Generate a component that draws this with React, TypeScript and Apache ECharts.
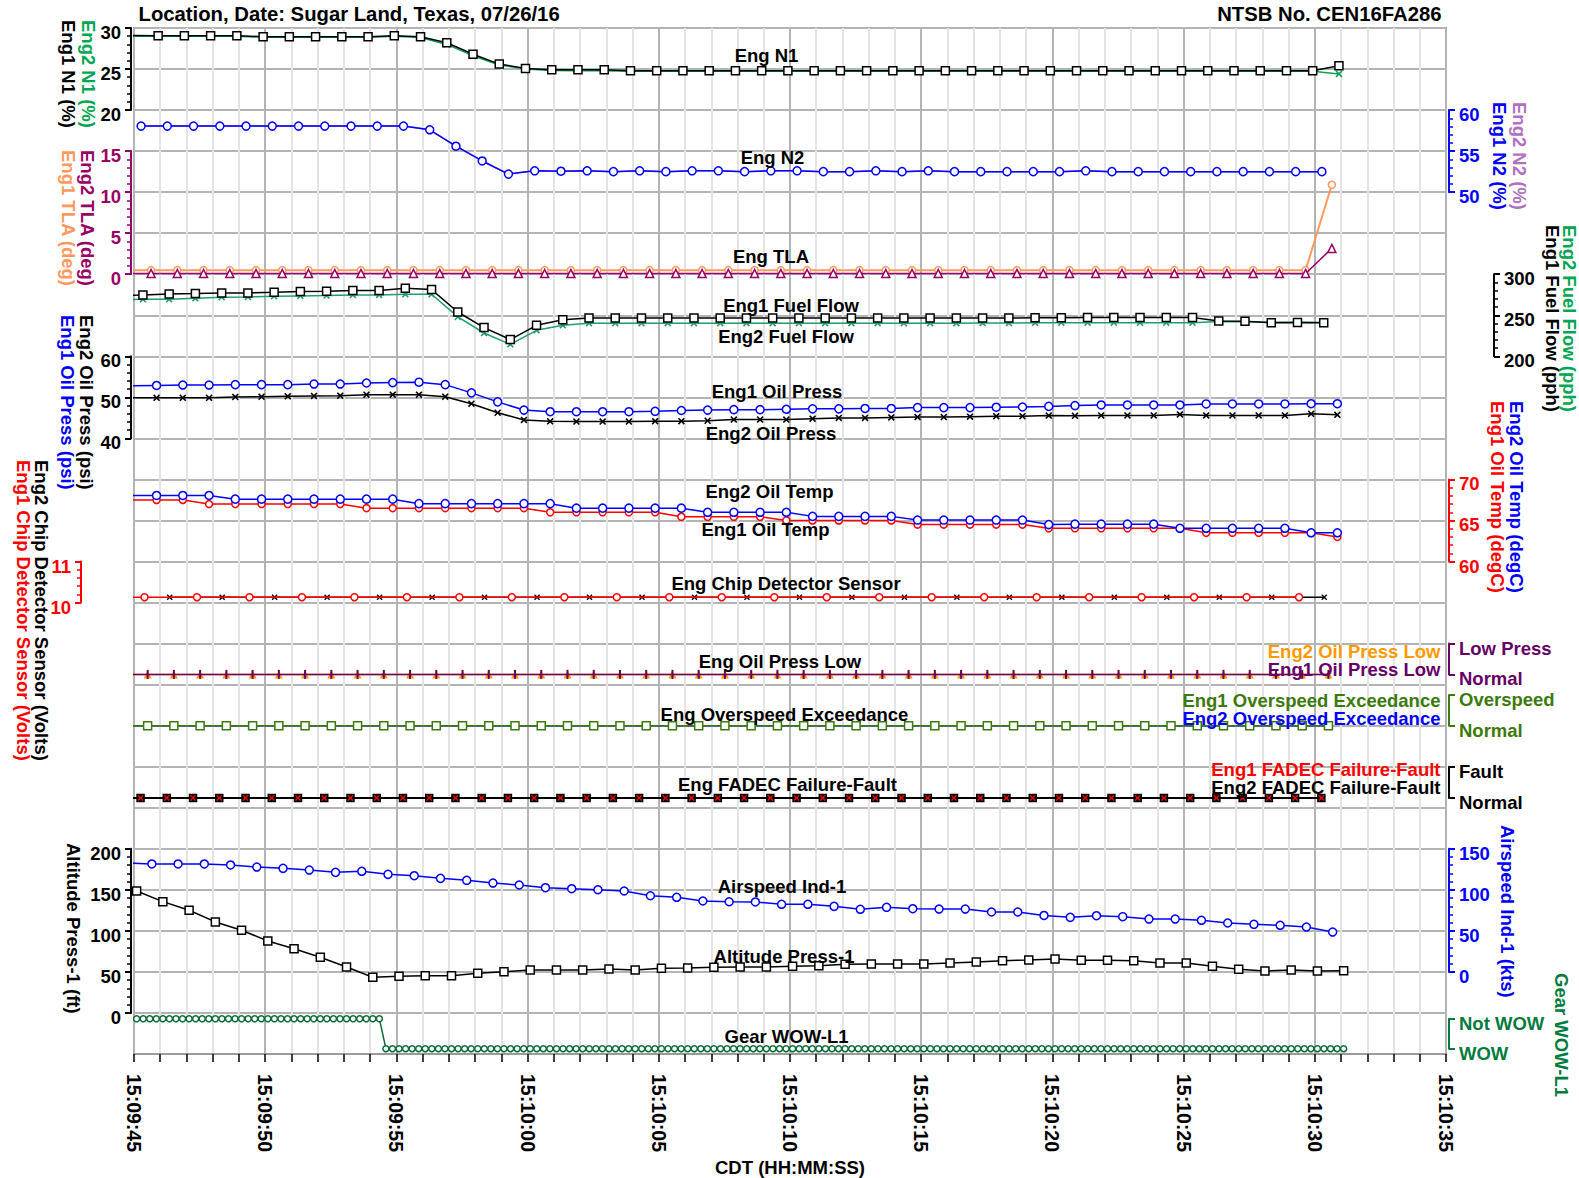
import React, { useEffect, useRef } from "react";
import * as echarts from "echarts";

const FONT = '"Liberation Sans", Arial, Helvetica, sans-serif';

// ---------- time base (seconds after 15:09:45) ----------
const X_MIN = 0;
const X_MAX = 50;
const X_MAJOR = 5;

// ---------- data ----------
// Eng N1 (%) – 1 Hz, first sample at -0.08 s
const n1T0 = -0.08;
const n1Eng1 = [29.1, 29.06, 29.06, 29.06, 29.06, 28.94, 28.94, 28.94, 28.94, 28.94, 29.06, 28.94, 28.2, 26.8, 25.6, 25.08, 24.9, 24.9, 24.9,
  24.8, 24.8, 24.8, 24.8, 24.8, 24.8, 24.8, 24.8, 24.8, 24.8, 24.8, 24.8, 24.8, 24.8, 24.8, 24.8, 24.8, 24.8, 24.8, 24.8, 24.8, 24.8, 24.8, 24.8, 24.8, 24.8, 24.8, 25.4];
const n1Eng2 = [29.0, 29.0, 29.0, 29.0, 29.0, 28.88, 28.88, 28.88, 28.88, 28.88, 28.98, 28.85, 28.0, 26.6, 25.5, 25.0, 24.82, 24.8, 24.8,
  24.72, 24.72, 24.72, 24.72, 24.72, 24.72, 24.72, 24.72, 24.72, 24.72, 24.72, 24.72, 24.72, 24.72, 24.72, 24.72, 24.72, 24.72, 24.72, 24.72, 24.72, 24.72, 24.72, 24.72, 24.72, 24.72, 24.72, 24.4];

// Eng N2 (%) – first sample at 0.27 s
const n2T0 = 0.27;
const n2Eng1 = [58.05, 58.05, 58.05, 58.05, 58.05, 58.05, 58.05, 58.05, 58.05, 58.05, 58.05, 57.6, 55.6, 53.8, 52.2, 52.6,
  52.55, 52.6, 52.5, 52.6, 52.5, 52.6, 52.6, 52.5, 52.6, 52.6, 52.5, 52.5, 52.6, 52.5, 52.6, 52.5, 52.5, 52.5, 52.5, 52.5,
  52.6, 52.5, 52.5, 52.5, 52.5, 52.5, 52.5, 52.5, 52.5, 52.5];
const n2Eng2 = n2Eng1.slice();

// Eng TLA (deg) – first sample at -0.35 s
const tlaT0 = -0.35;
const tlaEng1 = [0.5, 0.5, 0.5, 0.5, 0.5, 0.5, 0.5, 0.5, 0.5, 0.5, 0.5, 0.5, 0.5, 0.5, 0.5, 0.5, 0.5, 0.5, 0.5, 0.5, 0.5, 0.5, 0.5, 0.5,
  0.5, 0.5, 0.5, 0.5, 0.5, 0.5, 0.5, 0.5, 0.5, 0.5, 0.5, 0.5, 0.5, 0.5, 0.5, 0.5, 0.5, 0.5, 0.5, 0.5, 0.5, 0.5, 10.9];
const tlaEng2 = [0.1, 0.1, 0.1, 0.1, 0.1, 0.1, 0.1, 0.1, 0.1, 0.1, 0.1, 0.1, 0.1, 0.1, 0.1, 0.1, 0.1, 0.1, 0.1, 0.1, 0.1, 0.1, 0.1, 0.1,
  0.1, 0.1, 0.1, 0.1, 0.1, 0.1, 0.1, 0.1, 0.1, 0.1, 0.1, 0.1, 0.1, 0.1, 0.1, 0.1, 0.1, 0.1, 0.1, 0.1, 0.1, 0.1, 3.15];

// Eng Fuel Flow (pph) – first sample at -0.66 s
const fuelT0 = -0.66;
const fuelEng1 = [274, 274.8, 276, 276.5, 277.2, 277.2, 278, 278.9, 279.3, 280.1, 280.1, 282.9, 281.3, 254, 235, 220.4, 237.8, 244.5,
  246.7, 246.7, 246.7, 246.7, 246.7, 246.7, 246.8, 246.8, 246.8, 246.8, 246.8, 246.8, 246.8, 246.8, 246.8, 246.8, 246.8, 246.9, 247, 247.2, 247.2, 247.2, 247.2, 247.2,
  243, 242.7, 241, 241.2, 241];
const fuelEng2 = [269.1, 269.5, 269.5, 270.7, 272, 272.3, 273.2, 273.6, 274, 274.8, 274.8, 275.6, 275.6, 248, 228.4, 214.6, 231.7, 237.8,
  240.3, 240.3, 240.3, 240.3, 240.3, 240.3, 240.3, 240.3, 240.3, 240.3, 240.3, 240.3, 240.3, 240.3, 240.3, 240.5, 240.5, 240.8, 241, 241, 241, 241, 241, 241,
  242.3, 242, 241.5, 241.5, 241.3];

// Eng Oil Press (psi) – first sample at -0.14 s
const oilPT0 = -0.14;
const oilPEng1 = [52.8, 52.9, 53.0, 53.0, 53.1, 53.1, 53.1, 53.25, 53.25, 53.5, 53.6, 53.7, 53.1, 51.1, 48.9, 46.9, 46.5,
  46.5, 46.5, 46.5, 46.6, 46.8, 46.9, 47.0, 47.0, 47.1, 47.2, 47.2, 47.3, 47.3, 47.5, 47.5, 47.5, 47.6, 47.65, 47.8,
  48.0, 48.15, 48.15, 48.15, 48.15, 48.4, 48.4, 48.4, 48.4, 48.45, 48.45];
const oilPEng2 = [49.9, 49.9, 49.9, 49.9, 50.1, 50.15, 50.25, 50.35, 50.4, 50.65, 50.65, 50.65, 50.15, 48.45, 46.25, 44.5, 44.15,
  44.1, 44.1, 44.1, 44.2, 44.2, 44.3, 44.6, 44.6, 44.6, 44.8, 45.0, 45.0, 45.1, 45.2, 45.2, 45.3, 45.4, 45.4, 45.55,
  45.5, 45.6, 45.6, 45.6, 45.85, 45.6, 45.6, 45.6, 45.6, 46.0, 45.75];

// Eng Oil Temp (degC) – first sample at -0.14 s
const oilTT0 = -0.14;
const oilTEng1 = [67.5, 67.5, 67.5, 67.0, 67.0, 67.0, 67.0, 67.0, 67.0, 66.5, 66.5, 66.5, 66.5, 66.5, 66.5, 66.5,
  66.0, 66.0, 66.0, 66.0, 66.0, 65.45, 65.45, 65.45, 65.45, 65.0, 65.0, 65.0, 65.0, 65.0, 64.5, 64.5, 64.5, 64.5, 64.5,
  64.05, 64.05, 64.05, 64.05, 64.05, 64.05, 63.5, 63.5, 63.5, 63.5, 63.5, 63.0];
const oilTEng2 = [68.05, 68.05, 68.05, 68.05, 67.6, 67.6, 67.6, 67.6, 67.6, 67.6, 67.6, 67.05, 67.05, 67.05, 67.05, 67.05, 67.05,
  66.5, 66.5, 66.5, 66.5, 66.5, 66.0, 66.0, 66.0, 66.0, 65.5, 65.5, 65.5, 65.5, 65.05, 65.05, 65.05, 65.05, 65.05, 64.5,
  64.55, 64.55, 64.55, 64.55, 64.05, 64.05, 64.05, 64.05, 64.05, 63.5, 63.5];

// Eng Chip Detector Sensor (Volts) – every 2 s
const chipEng1T0 = -1.6;
const chipEng1 = [10.13, 10.13, 10.13, 10.13, 10.13, 10.13, 10.13, 10.13, 10.13, 10.13, 10.13, 10.13,
  10.13, 10.13, 10.13, 10.13, 10.13, 10.13, 10.13, 10.13, 10.13, 10.13, 10.13, 10.13];
const chipEng2T0 = 1.36;
const chipEng2 = [10.13, 10.13, 10.13, 10.13, 10.13, 10.13, 10.13, 10.13, 10.13, 10.13, 10.13, 10.13,
  10.13, 10.13, 10.13, 10.13, 10.13, 10.13, 10.13, 10.13, 10.13, 10.13, 10.13];

// Discrete parameters (0 = Normal)
const discreteT0 = -0.48;
const oilLowEng1 = [0, 0, 0, 0, 0, 0, 0, 0, 0, 0, 0, 0, 0, 0, 0, 0, 0, 0, 0, 0, 0, 0, 0, 0, 0, 0, 0, 0, 0, 0, 0, 0, 0, 0, 0, 0, 0, 0, 0, 0, 0, 0, 0, 0, 0, 0, 0];
const oilLowEng2 = [0, 0, 0, 0, 0, 0, 0, 0, 0, 0, 0, 0, 0, 0, 0, 0, 0, 0, 0, 0, 0, 0, 0, 0, 0, 0, 0, 0, 0, 0, 0, 0, 0, 0, 0, 0, 0, 0, 0, 0, 0, 0, 0, 0, 0, 0, 0];
const ovspEng1 = [0, 0, 0, 0, 0, 0, 0, 0, 0, 0, 0, 0, 0, 0, 0, 0, 0, 0, 0, 0, 0, 0, 0, 0, 0, 0, 0, 0, 0, 0, 0, 0, 0, 0, 0, 0, 0, 0, 0, 0, 0, 0, 0, 0, 0, 0, 0];
const ovspEng2 = [0, 0, 0, 0, 0, 0, 0, 0, 0, 0, 0, 0, 0, 0, 0, 0, 0, 0, 0, 0, 0, 0, 0, 0, 0, 0, 0, 0, 0, 0, 0, 0, 0, 0, 0, 0, 0, 0, 0, 0, 0, 0, 0, 0, 0, 0, 0];
const fadecT0 = -0.75;
const fadecEng1 = [0, 0, 0, 0, 0, 0, 0, 0, 0, 0, 0, 0, 0, 0, 0, 0, 0, 0, 0, 0, 0, 0, 0, 0, 0, 0, 0, 0, 0, 0, 0, 0, 0, 0, 0, 0, 0, 0, 0, 0, 0, 0, 0, 0, 0, 0, 0];
const fadecEng2 = [0, 0, 0, 0, 0, 0, 0, 0, 0, 0, 0, 0, 0, 0, 0, 0, 0, 0, 0, 0, 0, 0, 0, 0, 0, 0, 0, 0, 0, 0, 0, 0, 0, 0, 0, 0, 0, 0, 0, 0, 0, 0, 0, 0, 0, 0, 0];

// Altitude Press-1 (ft) – first sample at 0.1 s
const altT0 = 0.1;
const altitude = [148.6, 135.6, 125.1, 110.9, 100.8, 87.7, 78.3, 67.9, 56.0, 43.5, 44.7, 45.4, 45.4, 48.4, 50.3, 52.4, 52.4,
  52.4, 53.6, 52.4, 54.4, 54.8, 55.7, 56.0, 56.0, 56.9, 57.6, 59.3, 59.7, 59.7, 59.7, 60.9, 62.1, 63.7, 64.6, 65.6,
  64.2, 64.2, 63.7, 60.9, 60.9, 56.9, 53.2, 51.2, 52.4, 51.2, 51.5];

// Airspeed Ind-1 (kts) – first sample at -0.32 s
const iasT0 = -0.32;
const airspeed = [132.7, 131.5, 131.5, 131.5, 130.3, 127.8, 126.2, 124.1, 121.3, 122.6, 118.9, 117.2, 114.0, 111.6, 108.3, 105.9, 102.6,
  101.4, 100.1, 98.6, 92.8, 90.9, 86.4, 85.5, 85.2, 82.4, 82.4, 79.9, 76.3, 78.7, 77.0, 76.6, 76.6, 73.0, 73.0, 68.8,
  66.5, 68.5, 67.3, 64.4, 64.4, 62.9, 59.6, 58.0, 56.8, 54.7, 48.6];

// Gear WOW-L1 – 4 Hz, 1 = Not WOW, 0 = WOW
const gearT0 = 0.1;
const gearRateHz = 4;
const gearWowL1 = (
  "1111111111" + "1111111111" + "1111111111" + "11111111" +
  "0000000000" + "0000000000" + "0000000000" + "0000000000" + "0000000000" + "0000000000" + "0000000000" +
  "0000000000" + "0000000000" + "0000000000" + "0000000000" + "0000000000" + "0000000000" + "0000000000" + "0000000"
).split("").map(Number);

// ---------- layout ----------
const ROWS = 25;
const GRID = { left: 134, top: 28, width: 1312, height: 1026 };
const ROW_H = GRID.height / ROWS;

type AxisSpec = { key: string; rt: number; rb: number; vt: number; vb: number; side: "left" | "right"; offset: number; color: string; interval: number; names?: string[] };
const AXES: AxisSpec[] = [
  { key: "n1", rt: 0, rb: 2, vt: 30, vb: 20, side: "left", offset: 3, color: "#000000", interval: 5 },
  { key: "tla", rt: 3, rb: 6, vt: 15, vb: 0, side: "left", offset: 3, color: "#990066", interval: 5 },
  { key: "oilp", rt: 8, rb: 10, vt: 60, vb: 40, side: "left", offset: 3, color: "#000000", interval: 10 },
  { key: "chip", rt: 13, rb: 14, vt: 11, vb: 10, side: "left", offset: 53, color: "#ff0000", interval: 1 },
  { key: "alt", rt: 20, rb: 24, vt: 200, vb: 0, side: "left", offset: 3, color: "#000000", interval: 50 },
  { key: "n2", rt: 2, rb: 4, vt: 60, vb: 50, side: "right", offset: 3, color: "#0000ff", interval: 5 },
  { key: "fuel", rt: 6, rb: 8, vt: 300, vb: 200, side: "right", offset: 48, color: "#000000", interval: 50 },
  { key: "oilt", rt: 11, rb: 13, vt: 70, vb: 60, side: "right", offset: 3, color: "#ff0000", interval: 5 },
  { key: "lowp", rt: 15, rb: 15.75, vt: 1, vb: 0, side: "right", offset: 3, color: "#660066", interval: 1, names: ["Normal", "Low Press"] },
  { key: "ovsp", rt: 16.25, rb: 17, vt: 1, vb: 0, side: "right", offset: 3, color: "#3b7a0b", interval: 1, names: ["Normal", "Overspeed"] },
  { key: "fadec", rt: 18, rb: 18.76, vt: 1, vb: 0, side: "right", offset: 3, color: "#000000", interval: 1, names: ["Normal", "Fault"] },
  { key: "ias", rt: 20, rb: 23, vt: 150, vb: 0, side: "right", offset: 3, color: "#0000ff", interval: 50 },
  { key: "gear", rt: 24.14, rb: 24.87, vt: 1, vb: 0, side: "right", offset: 3, color: "#007a3d", interval: 1, names: ["WOW", "Not WOW"] },
];

const X_SYMBOL = "path://M0,1.6L1.6,0L5,3.4L8.4,0L10,1.6L6.6,5L10,8.4L8.4,10L5,6.6L1.6,10L0,8.4L3.4,5Z";

function pad(n: number) {
  return n < 10 ? "0" + n : "" + n;
}
function timeLabel(v: number) {
  const tot = 9 * 60 + 45 + Math.round(v);
  return "15:" + pad(Math.floor(tot / 60)) + ":" + pad(tot % 60);
}

function buildOption() {
  const grids: any[] = [{ ...GRID, show: true, borderColor: "#9a9a9a", borderWidth: 2, backgroundColor: "transparent" }];
  const xAxes: any[] = [
    {
      gridIndex: 0, type: "value", min: X_MIN, max: X_MAX, interval: X_MAJOR,
      axisLine: { show: true, onZero: false, lineStyle: { color: "#9a9a9a", width: 2 } },
      axisTick: { show: true, length: 8, lineStyle: { color: "#000", width: 1.5 } },
      minorTick: { show: true, splitNumber: 5, length: 8, lineStyle: { color: "#000", width: 1.5 } },
      splitLine: { show: true, lineStyle: { color: "#b4b4b4", width: 2 } },
      minorSplitLine: { show: true, lineStyle: { color: "#e4e4e4", width: 2 } },
      axisLabel: {
        show: true, rotate: -90, margin: 20, formatter: timeLabel, color: "#000",
        fontFamily: FONT, fontWeight: "bold", fontSize: 19.5, showMinLabel: true, showMaxLabel: true,
      },
    },
  ];
  const yAxes: any[] = [
    {
      gridIndex: 0, type: "value", min: 0, max: ROWS, interval: 1, show: true,
      axisLine: { show: false }, axisTick: { show: false }, axisLabel: { show: false },
      splitLine: { show: true, lineStyle: { color: "#b4b4b4", width: 2 } },
    },
  ];
  const hiddenIdx: Record<string, number> = {};
  AXES.forEach((a) => {
    const per = (a.vt - a.vb) / (a.rb - a.rt);
    hiddenIdx[a.key] = yAxes.length;
    yAxes.push({
      gridIndex: 0, type: "value", show: false,
      min: a.vb - (ROWS - a.rb) * per, max: a.vt + a.rt * per,
      splitLine: { show: false },
    });
  });
  AXES.forEach((a) => {
    const gi = grids.length;
    grids.push({ left: GRID.left, width: GRID.width, top: GRID.top + a.rt * ROW_H, height: (a.rb - a.rt) * ROW_H, show: false });
    xAxes.push({ gridIndex: gi, type: "value", min: X_MIN, max: X_MAX, show: false });
    yAxes.push({
      gridIndex: gi, type: "value", position: a.side, offset: a.offset,
      min: a.vb, max: a.vt, interval: a.interval,
      axisLine: { show: true, onZero: false, lineStyle: { color: a.color, width: 2 } },
      axisTick: { show: true, inside: false, length: 6, lineStyle: { color: a.color, width: 2 } },
      minorTick: a.names ? { show: false } : { show: true, splitNumber: 5, length: 4, lineStyle: { color: a.color, width: 1.5 } },
      splitLine: { show: false },
      axisLabel: {
        show: true, margin: 10, color: a.color, fontFamily: FONT, fontWeight: "bold", fontSize: 18.5,
        verticalAlign: "top", lineHeight: 9,
        formatter: a.names ? (v: number) => (a.names as string[])[Math.round(v)] : undefined,
        showMinLabel: true, showMaxLabel: true,
      },
    });
  });

  const mk = (o: {
    axis: string; t0: number; step: number; values: number[]; color: string; symbol?: string; size?: any;
    fill?: string; width?: number; z?: number; lineOpacity?: number; symbolBorder?: number;
  }) => ({
    type: "line", xAxisIndex: 0, yAxisIndex: hiddenIdx[o.axis], clip: true, silent: true, animation: false,
    data: o.values.map((v, i) => [o.t0 + i * o.step, v]),
    symbol: o.symbol || "none", showSymbol: !!o.symbol, symbolSize: o.size || 7,
    itemStyle: { color: o.fill || o.color, borderColor: o.color, borderWidth: o.symbolBorder ?? 1.5 },
    lineStyle: { color: o.color, width: o.width || 1.5, opacity: o.lineOpacity ?? 1 },
    z: o.z || 3,
  });

  const series: any[] = [
    // N1
    mk({ axis: "n1", t0: n1T0, step: 1, values: n1Eng2, color: "#00a651", symbol: X_SYMBOL, size: 7, symbolBorder: 0, z: 3 }),
    mk({ axis: "n1", t0: n1T0, step: 1, values: n1Eng1, color: "#000000", symbol: "rect", size: 8, fill: "#ffffff", z: 4 }),
    // N2
    mk({ axis: "n2", t0: n2T0, step: 1, values: n2Eng2, color: "#b070c0", z: 3 }),
    mk({ axis: "n2", t0: n2T0, step: 1, values: n2Eng1, color: "#0000ff", symbol: "circle", size: 8, fill: "#ffffff", z: 4 }),
    // TLA
    mk({ axis: "tla", t0: tlaT0, step: 1, values: tlaEng1, color: "#ff9960", symbol: "circle", size: 7, fill: "#ffffff", width: 2, z: 3 }),
    mk({ axis: "tla", t0: tlaT0, step: 1, values: tlaEng2, color: "#990066", symbol: "triangle", size: 8, fill: "#ffffff", z: 4 }),
    // Fuel flow
    mk({ axis: "fuel", t0: fuelT0, step: 1, values: fuelEng2, color: "#1f9e6a", symbol: X_SYMBOL, size: 7, symbolBorder: 0, z: 3 }),
    mk({ axis: "fuel", t0: fuelT0, step: 1, values: fuelEng1, color: "#000000", symbol: "rect", size: 8, fill: "#ffffff", z: 4 }),
    // Oil press
    mk({ axis: "oilp", t0: oilPT0, step: 1, values: oilPEng2, color: "#000000", symbol: X_SYMBOL, size: 7, symbolBorder: 0, z: 3 }),
    mk({ axis: "oilp", t0: oilPT0, step: 1, values: oilPEng1, color: "#0000ff", symbol: "circle", size: 8, fill: "#ffffff", z: 4 }),
    // Oil temp
    mk({ axis: "oilt", t0: oilTT0, step: 1, values: oilTEng1, color: "#ff0000", symbol: "circle", size: 7, fill: "#ffffff", z: 3 }),
    mk({ axis: "oilt", t0: oilTT0, step: 1, values: oilTEng2, color: "#0000ff", symbol: "circle", size: 8, fill: "#ffffff", z: 4 }),
    // Chip detector
    mk({ axis: "chip", t0: chipEng2T0, step: 2, values: chipEng2, color: "#000000", symbol: X_SYMBOL, size: 6, symbolBorder: 0, z: 3 }),
    mk({ axis: "chip", t0: chipEng1T0, step: 2, values: chipEng1, color: "#ff0000", symbol: "circle", size: 7, fill: "#ffffff", z: 4 }),
    // Oil press low
    mk({ axis: "lowp", t0: discreteT0, step: 1, values: oilLowEng2, color: "#ff9900", symbol: "triangle", size: 8, symbolBorder: 0, z: 3 }),
    mk({ axis: "lowp", t0: discreteT0, step: 1, values: oilLowEng1, color: "#660066", symbol: "rect", size: [2, 9], symbolBorder: 0, z: 4 }),
    // Overspeed
    mk({ axis: "ovsp", t0: discreteT0, step: 1, values: ovspEng2, color: "#0000ff", z: 3 }),
    mk({ axis: "ovsp", t0: discreteT0, step: 1, values: ovspEng1, color: "#3b7a0b", symbol: "rect", size: 8, fill: "#ffffff", z: 4 }),
    // FADEC
    mk({ axis: "fadec", t0: fadecT0, step: 1, values: fadecEng2, color: "#000000", symbol: "rect", size: 7, width: 2, z: 3 }),
    mk({ axis: "fadec", t0: fadecT0, step: 1, values: fadecEng1, color: "#ff0000", symbol: X_SYMBOL, size: 6, symbolBorder: 0, lineOpacity: 0, z: 4 }),
    // Altitude / airspeed
    mk({ axis: "alt", t0: altT0, step: 1, values: altitude, color: "#000000", symbol: "rect", size: 8, fill: "#ffffff", z: 4 }),
    mk({ axis: "ias", t0: iasT0, step: 1, values: airspeed, color: "#0000ff", symbol: "circle", size: 8, fill: "#ffffff", z: 4 }),
    // Gear WOW
    mk({ axis: "gear", t0: gearT0, step: 1 / gearRateHz, values: gearWowL1, color: "#0b6b35", symbol: "circle", size: 6, fill: "#ffffff", z: 4 }),
  ];

  const txt = (text: string, x: number, y: number, fill: string, opts: any = {}) => ({
    type: "text", x, y, rotation: opts.rot || 0, silent: true, z: 100,
    style: {
      text, fill, font: `bold ${opts.size || 18.5}px ${FONT}`,
      align: opts.align || "center", verticalAlign: opts.va || "middle",
      lineHeight: opts.lh,
    },
  });
  const V = -Math.PI / 2;
  const vt = (text: string, x: number, top: number, fill: string) => txt(text, x, top, fill, { rot: V, align: "left", va: "middle", lh: 18 });
  const leg = (text: string, y: number, fill: string) => txt(text, 1440.5, y, fill, { align: "right", lh: 14 });

  const graphic: any[] = [
    txt("Location, Date: Sugar Land, Texas, 07/26/16", 138.5, 14, "#000", { align: "left", size: 20.3 }),
    txt("NTSB No. CEN16FA286", 1441.5, 14, "#000", { align: "right", size: 20.3 }),
    txt("CDT (HH:MM:SS)", 790, 1167, "#000", { size: 18.5 }),
    // panel captions
    txt("Eng N1", 766.5, 55, "#000"),
    txt("Eng N2", 772.5, 157.5, "#000"),
    txt("Eng TLA", 771, 256, "#000"),
    txt("Eng1 Fuel Flow", 791, 305, "#000"),
    txt("Eng2 Fuel Flow", 786, 336.5, "#000"),
    txt("Eng1 Oil Press", 777, 391, "#000"),
    txt("Eng2 Oil Press", 771, 433.5, "#000"),
    txt("Eng2 Oil Temp", 769.5, 491.5, "#000"),
    txt("Eng1 Oil Temp", 765.5, 529.5, "#000"),
    txt("Eng Chip Detector Sensor", 786, 583.5, "#000"),
    txt("Eng Oil Press Low", 780, 661.5, "#000"),
    txt("Eng Overspeed Exceedance", 784.5, 714, "#000"),
    txt("Eng FADEC Failure-Fault", 787.5, 784.5, "#000"),
    txt("Airspeed Ind-1", 782, 886, "#000"),
    txt("Altitude Press-1", 784, 956, "#000"),
    txt("Gear WOW-L1", 786.5, 1036, "#000"),
    // discrete legends inside the plot
    leg("Eng2 Oil Press Low", 651, "#ff9900"),
    leg("Eng1 Oil Press Low", 669, "#660066"),
    leg("Eng1 Overspeed Exceedance", 700, "#3b7a0b"),
    leg("Eng2 Overspeed Exceedance", 718, "#0000ff"),
    leg("Eng1 FADEC Failure-Fault", 769, "#ff0000"),
    leg("Eng2 FADEC Failure-Fault", 787, "#000000"),
    // left axis titles
    vt("Eng2 N1 (%)", 88, 20, "#00a651"),
    vt("Eng1 N1 (%)", 68, 20, "#000000"),
    vt("Eng2 TLA (deg)", 87, 150, "#990066"),
    vt("Eng1 TLA (deg)", 68, 150, "#ff9960"),
    vt("Eng2 Oil Press (psi)", 86, 315, "#000000"),
    vt("Eng1 Oil Press (psi)", 67, 315, "#0000ff"),
    vt("Eng2 Chip Detector Sensor (Volts)", 41, 460, "#000000"),
    vt("Eng1 Chip Detector Sensor (Volts)", 23, 460, "#ff0000"),
    vt("Altitude Press-1 (ft)", 73, 843, "#000000"),
    // right axis titles
    vt("Eng2 N2 (%)", 1519.5, 102, "#b070c0"),
    vt("Eng1 N2 (%)", 1499, 102, "#0000ff"),
    vt("Eng2 Fuel Flow (pph)", 1569, 225, "#00a651"),
    vt("Eng1 Fuel Flow (pph)", 1552, 225, "#000000"),
    vt("Eng2 Oil Temp (degC)", 1516, 401, "#0000ff"),
    vt("Eng1 Oil Temp (degC)", 1497, 401, "#ff0000"),
    vt("Airspeed Ind-1 (kts)", 1507.5, 825, "#0000ff"),
    vt("Gear WOW-L1", 1561, 973, "#007a3d"),
  ];

  return {
    animation: false,
    backgroundColor: "#ffffff",
    textStyle: { fontFamily: FONT },
    grid: grids,
    xAxis: xAxes,
    yAxis: yAxes,
    series,
    graphic,
  };
}

export default function App() {
  const ref = useRef<HTMLDivElement>(null);
  useEffect(() => {
    document.body.style.margin = "0";
    document.body.style.overflow = "hidden";
    const chart = echarts.init(ref.current as HTMLDivElement, null, { renderer: "svg" });
    chart.setOption(buildOption() as any);
    return () => chart.dispose();
  }, []);
  return <div ref={ref} style={{ width: 1579, height: 1178 }} />;
}
